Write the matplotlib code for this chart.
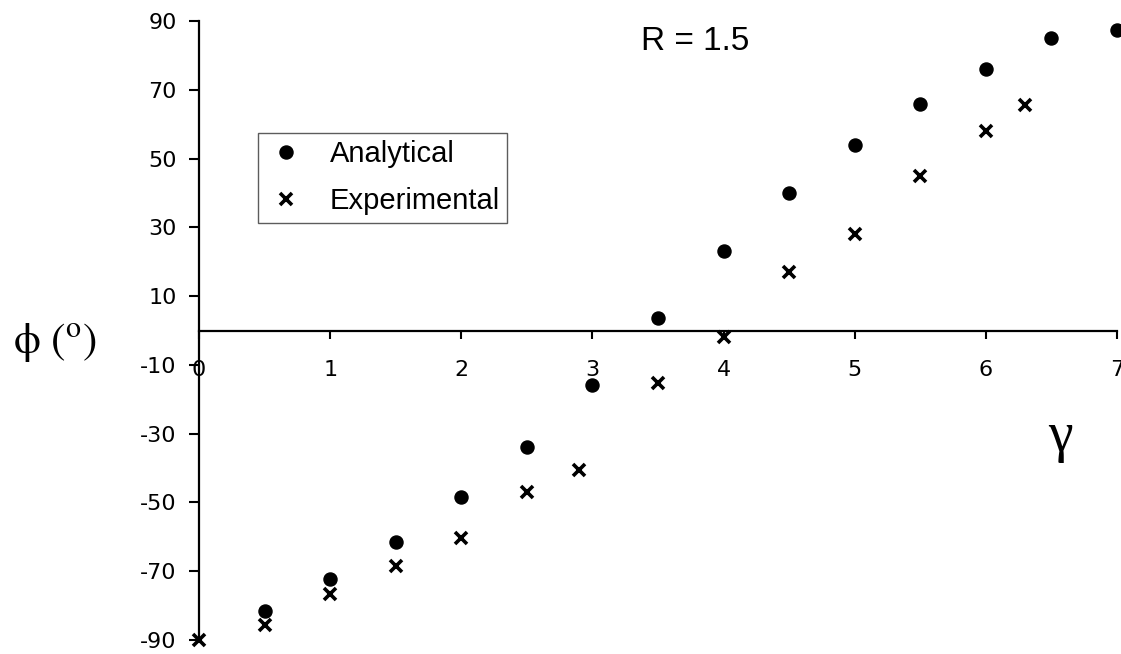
import matplotlib
matplotlib.use("Agg")
import matplotlib.pyplot as plt

# Data
analytical_x = [0.5, 1.0, 1.5, 2.0, 2.5, 3.0, 3.5, 4.0, 4.5, 5.0, 5.5, 6.0, 6.5, 7.0]
analytical_y = [-81.5, -72.3, -61.4, -48.5, -33.8, -15.8, 3.5, 23.0, 40.0, 54.0, 66.0, 76.0, 85.0, 87.5]
experimental_x = [0.0, 0.5, 1.0, 1.5, 2.0, 2.5, 2.9, 3.5, 4.0, 4.5, 5.0, 5.5, 6.0, 6.3]
experimental_y = [-90.0, -85.5, -76.5, -68.5, -60.4, -47.0, -40.5, -15.4, -2.0, 17.0, 28.0, 45.0, 58.0, 65.5]

x_ticks = [0, 1, 2, 3, 4, 5, 6, 7]
y_ticks = [-90, -70, -50, -30, -10, 10, 30, 50, 70, 90]

plt.rcParams["mathtext.fontset"] = "stix"

fig = plt.figure(figsize=(11.21, 6.54), dpi=100)
ax = fig.add_axes([199 / 1121, 1 - 640 / 654, (1117 - 199) / 1121, (640 - 21) / 654])

ax.plot(analytical_x, analytical_y, linestyle="none", marker="o", ms=9.4,
        color="black", clip_on=False, label="Analytical", zorder=3)
ax.plot(experimental_x, experimental_y, linestyle="none", marker="x", ms=8.5,
        mew=2.6, color="black", clip_on=False, label="Experimental", zorder=3)

ax.set_xlim(0, 7)
ax.set_ylim(-90, 90)

ax.spines["top"].set_visible(False)
ax.spines["right"].set_visible(False)
ax.spines["bottom"].set_position(("data", 0))
ax.spines["bottom"].set_linewidth(1.6)
ax.spines["left"].set_linewidth(1.6)

ax.set_xticks(x_ticks)
ax.set_xticklabels([str(t) for t in x_ticks])
ax.set_yticks(y_ticks)
ax.set_yticklabels([str(t) for t in y_ticks])

ax.tick_params(axis="x", direction="out", length=6, width=1.5, pad=15,
               labelsize=16)
ax.tick_params(axis="y", direction="out", length=7.2, width=1.5, pad=9,
               labelsize=16)
for lab in ax.get_xticklabels() + ax.get_yticklabels():
    lab.set_fontfamily("DejaVu Sans")

leg = ax.legend(loc="upper left", bbox_to_anchor=((258 - 199) / 918, 1 - (133 - 21) / 619),
                borderaxespad=0, frameon=True, fancybox=False,
                prop={"family": "Liberation Sans", "size": 21},
                handlelength=1.4, handletextpad=0.8, borderpad=0.25,
                labelspacing=0.65, numpoints=1)
leg.get_frame().set_edgecolor("#333333")
leg.get_frame().set_linewidth(1.0)

ax.text(3.78, 84, "R = 1.5", ha="center", va="center",
        fontsize=24, family="Liberation Sans")
ax.text(6.57, -31, "γ", ha="center", va="center",
        fontsize=40, family="Liberation Serif")

fig.text(55 / 1121, 1 - 342 / 654, r"$\mathrm{\phi}\ (^{\mathrm{o}})$", ha="center",
         va="center", fontsize=31)

fig.savefig("out.png", dpi=100)
